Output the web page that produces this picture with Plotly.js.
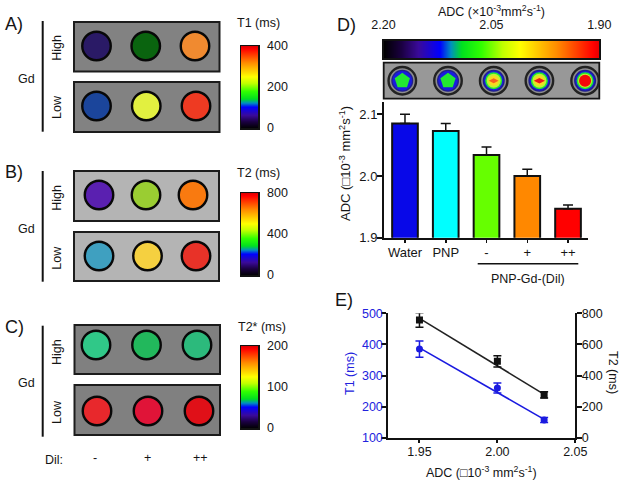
<!DOCTYPE html>
<html><head><meta charset="utf-8">
<script src="https://cdn.plot.ly/plotly-3.0.1.min.js"></script>
<style>html,body{margin:0;padding:0;background:#fff}#c{width:624px;height:483px}</style>
</head><body><div id="c"></div>
<script>
// ---------- data ----------
const dilLabels = ['-', '+', '++'];
const t1HighColors = ['#2a1a66', '#0a640f', '#f08a30'];
const t1LowColors  = ['#1b459b', '#e2f040', '#ee3a22'];
const t2HighColors = ['#5a20b0', '#9acd32', '#f97a10'];
const t2LowColors  = ['#3fa0c0', '#f5d040', '#e83228'];
const t2sHighColors = ['#30c888', '#22b85c', '#2cba7c'];
const t2sLowColors  = ['#e8282c', '#e01438', '#e01018'];
const t1Range = [0, 400],  t1Ticks = [0, 200, 400];
const t2Range = [0, 800],  t2Ticks = [0, 400, 800];
const t2sRange = [0, 200], t2sTicks = [0, 100, 200];
const adcRange = [2.20, 1.90], adcTicks = [2.20, 2.05, 1.90];

const barCats = ['Water', 'PNP', '-', '+', '++'];
const barVals = [2.085, 2.073, 2.034, 2.000, 1.947];
const barErr  = [0.015, 0.012, 0.013, 0.011, 0.006];
const barColors = ['#0808e8', '#00ffff', '#66ff00', '#ff8800', '#ff0000'];

const adcX   = [1.95, 2.00, 2.03];
const t1Vals = [385, 260, 157];
const t1Err  = [26, 16, 8];
const t2Vals = [757, 491, 275];
const t2Err  = [46, 36, 20];
const fitX   = [1.95, 2.03];
const t1Fit  = [389, 159];
const t2Fit  = [767, 279];

const rainbow = [[0,'#000000'],[0.08,'#1a0040'],[0.16,'#3a0a9a'],[0.26,'#0000ff'],[0.31,'#0090c0'],[0.36,'#00e020'],
  [0.45,'#30ff00'],[0.55,'#c0ff00'],[0.63,'#ffff00'],[0.80,'#ff8c00'],[0.97,'#ff0000'],[1,'#e00000']];

// ---------- helpers ----------
const W = 624, H = 483, FONT = 'Liberation Sans, Arial, sans-serif', INK = '#151515';
const layout = {width:W, height:H, showlegend:false, paper_bgcolor:'#fff', plot_bgcolor:'rgba(0,0,0,0)',
  margin:{l:0,r:0,t:0,b:0,autoexpand:false}, font:{family:FONT,size:12,color:INK}, shapes:[], annotations:[]};
const traces = [];
let axN = 0;
const dx = (a,b)=>[a/W,b/W], dy = (a,b)=>[1-b/H,1-a/H];
function newAxes(x0,x1,y0,y1,xo,yo){
  axN++;
  const s = axN===1?'':axN;
  layout['xaxis'+s] = Object.assign({domain:dx(x0,x1),anchor:'y'+s,fixedrange:true,showgrid:false,zeroline:false,automargin:false}, xo);
  layout['yaxis'+s] = Object.assign({domain:dy(y0,y1),anchor:'x'+s,fixedrange:true,showgrid:false,zeroline:false,automargin:false}, yo);
  return ['x'+s,'y'+s];
}
function note(text,x,y,size,opt){
  layout.annotations.push(Object.assign({text:text,x:x/W,y:1-y/H,xref:'paper',yref:'paper',showarrow:false,
    xanchor:'center',yanchor:'middle',font:{family:FONT,size:size,color:INK}},opt||{}));
}
function rule(x0,y0,x1,y1,w){
  layout.shapes.push({type:'line',xref:'paper',yref:'paper',x0:x0/W,x1:x1/W,y0:1-y0/H,y1:1-y1/H,line:{color:'#111',width:w}});
}
function tile(x0,x1,y0,y1,cx0,cx2,cy,bg,colors,cat){
  const s=(cx2-cx0)/2, v=50;
  const [xa,ya]=newAxes(x0,x1,y0,y1,
    {type:'category',categoryorder:'array',categoryarray:dilLabels,range:[(x0-cx0)/s,(x1-cx0)/s],visible:false},
    {type:'category',range:[-(y1-cy)/v,(cy-y0)/v],visible:false});
  layout.shapes.push({type:'rect',xref:'paper',yref:'paper',x0:x0/W,x1:x1/W,y0:1-y1/H,y1:1-y0/H,layer:'below',
    fillcolor:bg,line:{color:'#1c1c1c',width:2}});
  traces.push({type:'scatter',mode:'markers',x:dilLabels,y:dilLabels.map(()=>cat),xaxis:xa,yaxis:ya,cliponaxis:false,hoverinfo:'skip',
    marker:{size:28.5,color:colors,line:{color:'#080808',width:2.4}}});
}
function vbar(x0,x1,y0,y1,range,ticks){
  const [xa,ya]=newAxes(x0,x1,y0,y1,
    {range:[0,1],showticklabels:false,ticks:'',showline:true,mirror:true,linecolor:'#111',linewidth:1.5},
    {range:range,side:'right',tickvals:ticks,ticks:'outside',ticklen:5,tickcolor:'rgba(0,0,0,0)',tickfont:{size:12.5,color:INK},
     showline:true,mirror:true,linecolor:'#111',linewidth:1.5});
  traces.push({type:'heatmap',x:[0,1],y:range,z:[[range[0],range[0]],[range[1],range[1]]],xaxis:xa,yaxis:ya,zsmooth:'best',
    zmin:range[0],zmax:range[1],colorscale:rainbow,showscale:false,hoverinfo:'skip'});
}
const SUP3 = '<sup>-3</sup>', SUP2='<sup>2</sup>', SUP1='<sup>-1</sup>';

// ---------- panels A-C ----------
tile(74,219.5,22,71.5,96.5,195,46,'#828282',t1HighColors,'High');
tile(74,219.5,82,132,96.5,196,106,'#828282',t1LowColors,'Low');
tile(74,219,171,221,99,193,195,'#b4b4b4',t2HighColors,'High');
tile(74,219,232,281,99,196,256,'#b4b4b4',t2LowColors,'Low');
tile(74.5,220,325,374,96,197,345,'#808080',t2sHighColors,'High');
tile(74.5,220,385,435,97,199,411,'#808080',t2sLowColors,'Low');
vbar(241,258,46,128,t1Range,t1Ticks);
vbar(241,258,193,275,t2Range,t2Ticks);
vbar(241,258,346,428,t2sRange,t2sTicks);

[[21,131.7,78.7,47.7,107],[171,281.7,229,197.7,257.7],[325.7,436.7,383,352,412]].forEach(r=>{
  rule(42.7,r[0],42.7,r[1],2);
  note('Gd',26,r[2],12.5);
  note('High',57,r[3],12.5,{textangle:-90});
  note('Low',57,r[4],12.5,{textangle:-90});
});
note('A)',14,24,18); note('B)',14,172,18); note('C)',14,327,18); note('D)',346,25,18); note('E)',344,300,18);
note('T1 (ms)',258,23,12.5); note('T2 (ms)',258,173,12.5); note('T2* (ms)',262,327,12.5);
note('Dil:',54,460,12.5); note('-',95,458,12.5); note('+',147,458,12.5); note('++',200,458,12.5);

// ---------- panel D: scale ----------
{
  const [xa,ya]=newAxes(383.5,599.3,40.7,58.3,
    {range:adcRange,side:'top',tickvals:adcTicks,tickformat:'.2f',ticks:'outside',ticklen:5,tickcolor:'rgba(0,0,0,0)',
     tickfont:{size:12.5,color:INK},showline:true,mirror:true,linecolor:'#111',linewidth:1.5},
    {range:[0,1],showticklabels:false,ticks:'',showline:true,mirror:true,linecolor:'#111',linewidth:1.5});
  traces.push({type:'heatmap',x:adcRange,y:[0,1],z:[adcRange,adcRange],xaxis:xa,yaxis:ya,zsmooth:'best',
    zmin:1.90,zmax:2.20,colorscale:rainbow,reversescale:true,showscale:false,hoverinfo:'skip'});
}
note('ADC (×10'+SUP3+'mm'+SUP2+'s'+SUP1+')',491,10.7,12.5);

// ---------- panel D: phantom strip ----------
{
  const [xa,ya]=newAxes(383.7,599.3,62.7,98.7,
    {type:'category',categoryorder:'array',categoryarray:barCats,range:[(383.7-402.3)/45.7,(599.3-402.3)/45.7],visible:false},
    {range:[-18,18],visible:false});
  layout.shapes.push({type:'rect',xref:'paper',yref:'paper',x0:383.7/W,x1:599.3/W,y0:1-98.7/H,y1:1-62.7/H,layer:'below',
    fillcolor:'#989898',line:{color:'#151515',width:1.8}});
  const layer=(size,color,sym,cats)=>traces.push({type:'scatter',mode:'markers',x:cats,y:cats.map(()=>0),xaxis:xa,yaxis:ya,
    cliponaxis:false,hoverinfo:'skip',marker:{size:size,symbol:sym||'circle',color:color,line:{width:0}}});
  traces.push({type:'scatter',mode:'markers',x:barCats,y:barCats.map(()=>0),xaxis:xa,yaxis:ya,cliponaxis:false,hoverinfo:'skip',
    marker:{size:27.5,color:'#8c8c8c',line:{color:'#222',width:2.4}}});
  layer(22,'#20208a','circle',barCats);
  layer(19.5,'#1a1ae0','circle',barCats);
  layer(16,'#22e832','pentagon',['Water','PNP']);
  layer(17,'#22e832','circle',['-','+','++']);
  layer(14,'#c4f030','circle',['-','+','++']);
  layer(10,'#f8d820','circle',['-','+','++']);
  layer(7,'#f46020','diamond-wide',['-']);
  layer(8,'#ee1818','diamond-wide',['+']);
  layer(12,'#f40808','circle',['++']);
}

// ---------- panel D: bars ----------
{
  const [xa,ya]=newAxes(384,588,102,237.7,
    {type:'category',categoryorder:'array',categoryarray:barCats,range:[-0.515,4.49],showline:true,linecolor:'#111',linewidth:2,
     ticks:'outside',ticklen:3,tickwidth:1.5,tickcolor:'#111',ticklabelstandoff:-1,tickfont:{size:13,color:INK}},
    {range:[1.9,2.12],tickvals:[1.9,2.0,2.1],tickformat:'.1f',showline:true,linecolor:'#111',linewidth:2,
     ticks:'outside',ticklen:5,tickwidth:2,tickcolor:'#111',ticklabelstandoff:-3,tickfont:{size:13,color:INK}});
  traces.push({type:'bar',x:barCats,y:barVals,width:0.63,xaxis:xa,yaxis:ya,hoverinfo:'skip',
    marker:{color:barColors,line:{color:'#111',width:2}},
    error_y:{type:'data',symmetric:false,array:barErr,arrayminus:barErr.map(()=>0),color:'#111',thickness:1.5,width:5}});
}
note('ADC (□10'+SUP3+' mm'+SUP2+'s'+SUP1+')',345,164,13,{textangle:-90});
rule(477.7,263.7,578.3,263.7,1.5);
note('PNP-Gd-(Dil)',528,279,12.5);

// ---------- panel E ----------
{
  const [xa,ya]=newAxes(388.3,575.3,313.3,437.7,
    {range:[1.93,2.05],tickvals:[1.95,2.00,2.05],tickformat:'.2f',showline:true,linecolor:'#111',linewidth:2,
     ticks:'outside',ticklen:3,tickwidth:2,tickcolor:'#111',ticklabelstandoff:-2,tickfont:{size:12.5,color:INK}},
    {range:[100,500],dtick:100,showline:true,linecolor:'#111',linewidth:2,
     ticks:'outside',ticklen:5,tickwidth:2,tickcolor:'#111',ticklabelstandoff:-4,tickfont:{size:12.5,color:'#2222dd'}});
  const y2n = 'yaxis'+(axN+1);
  layout[y2n] = {domain:dy(313.3,437.7),overlaying:ya,anchor:xa,side:'right',range:[0,800],dtick:200,fixedrange:true,
    showgrid:false,zeroline:false,showline:true,linecolor:'#111',linewidth:2,ticks:'outside',ticklen:5,tickwidth:2,tickcolor:'#111',
    ticklabelstandoff:-3,tickfont:{size:12.5,color:INK}};
  const ya2='y'+(axN+1);
  const ln=(y,c,a)=>traces.push({type:'scatter',mode:'lines',x:fitX,y:y,xaxis:xa,yaxis:a,hoverinfo:'skip',line:{color:c,width:1.6}});
  const pt=(y,e,c,s,a)=>traces.push({type:'scatter',mode:'markers',x:adcX,y:y,xaxis:xa,yaxis:a,hoverinfo:'skip',
    marker:{color:c,size:7,symbol:s},error_y:{type:'data',array:e,color:c,thickness:1.5,width:4}});
  ln(t1Fit,'#1a1ae0',ya); ln(t2Fit,'#222',ya2);
  pt(t1Vals,t1Err,'#1a1ae0','circle',ya); pt(t2Vals,t2Err,'#111','square',ya2);
}
note('T1 (ms)',350,374,12.5,{textangle:-90,font:{family:FONT,size:12.5,color:'#2222dd'}});
note('T2 (ms)',613,372,12.5,{textangle:90});
note('ADC (□10'+SUP3+' mm'+SUP2+'s'+SUP1+')',481,472,12.5);

Plotly.newPlot('c',traces,layout,{staticPlot:true,displayModeBar:false});
</script></body></html>
